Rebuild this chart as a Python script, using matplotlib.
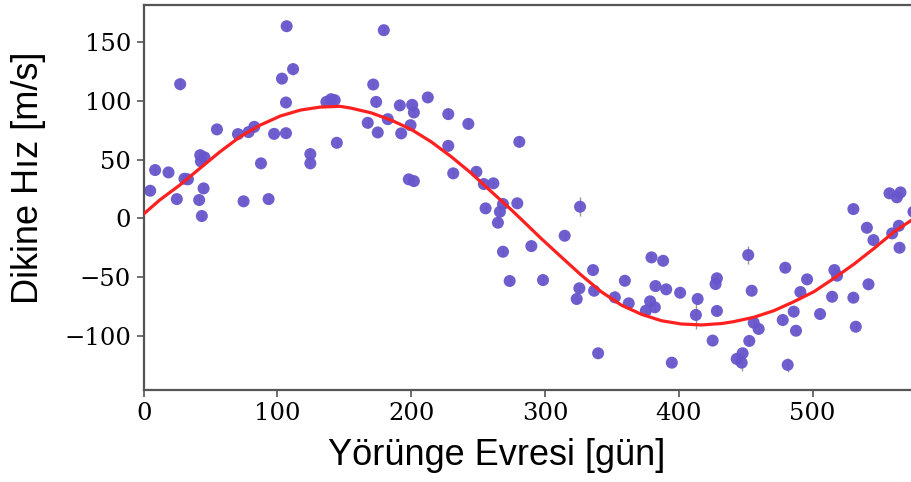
import matplotlib
matplotlib.use("Agg")
import matplotlib.pyplot as plt

phase = [4.9, 8.6, 18.6, 24.8, 27.3, 30.5, 33.1, 41.5, 42.3, 45.5, 42.8, 43.5,
         44.8, 54.8, 70.5, 74.7, 78.4, 82.7, 87.7, 93.4, 97.5, 103.4, 106.4,
         106.4, 106.9, 111.7, 124.6, 124.6, 136.6, 140.1, 142.8, 144.4, 167.5,
         171.6, 173.8, 175.0, 179.5, 182.5, 191.5, 192.5, 198.2, 199.5, 200.7,
         202.0, 202.0, 212.4, 227.7, 227.7, 231.4, 242.7, 248.7, 254.3, 255.6,
         261.4, 264.8, 266.3, 268.6, 268.6, 273.6, 279.3, 280.8, 289.8, 298.5,
         314.7, 323.7, 325.7, 326.2, 335.9, 336.7, 339.7, 352.2, 359.7, 362.6,
         375.4, 378.6, 379.6, 382.1, 382.6, 388.3, 390.6, 394.8, 401.0, 412.8,
         414.1, 425.3, 427.5, 428.5, 428.5, 443.3, 447.0, 447.7, 451.9, 452.7,
         454.5, 456.0, 459.7, 477.7, 479.6, 481.4, 485.9, 487.6, 490.9, 495.9,
         505.6, 514.6, 516.3, 518.3, 530.5, 530.5, 532.3, 540.6, 541.8, 545.5,
         557.5, 559.5, 563.0, 564.5, 565.0, 565.7, 575.4]
rv = [23.5, 41.1, 39.1, 16.4, 114.2, 33.7, 33.2, 15.6, 53.8, 51.9, 48.5, 2.0,
      25.5, 75.7, 71.7, 14.5, 73.4, 77.9, 46.8, 16.4, 71.9, 118.9, 98.6,
      72.5, 163.5, 127.0, 54.7, 46.8, 99.1, 101.4, 100.6, 64.3, 81.3,
      113.9, 99.1, 73.1, 160.1, 84.4, 96.1, 72.3, 33.2, 79.3, 96.6,
      90.1, 31.7, 102.9, 88.7, 61.7, 38.3, 80.4, 39.6, 29.2, 8.5,
      29.8, -3.7, 5.6, 12.2, -28.4, -53.3, 12.8, 65.1, -23.6, -52.5,
      -14.8, -68.6, -59.5, 9.9, -44.0, -61.6, -114.8, -67.2, -53.1, -72.3,
      -78.6, -70.6, -33.2, -75.7, -57.6, -36.1, -60.4, -122.8, -63.3, -82.2,
      -68.6, -104.0, -55.9, -51.0, -78.8, -119.6, -122.8, -114.8, -31.2, -104.3,
      -61.6, -88.8, -94.1, -86.5, -42.0, -124.7, -79.4, -95.6, -62.7, -51.9,
      -81.4, -66.7, -44.0, -48.8, 7.9, -67.5, -92.2, -8.0, -56.1, -18.5,
      21.3, -12.8, 17.9, -6.3, -25.0, 22.1, 5.6]
rv_err = [4] * len(rv)
for i, e in [(4, 5), (25, 5), (36, 4), (66, 8), (82, 12), (89, 7), (91, 8),
             (98, 6), (70, 5)]:
    rv_err[i] = e

# fitted orbit curve
fit_phase = [0, 12, 27, 42, 57, 72, 87, 102, 117, 132, 147, 155, 170, 185,
             200, 215, 230, 245, 260, 275, 287, 297, 312, 327, 342, 357, 372,
             387, 402, 417, 432, 441, 456, 471, 486, 501, 516, 531, 546, 561,
             576]
fit_rv = [3.7, 15.6, 28.3, 42.5, 56.6, 69.4, 79.3, 87.0, 92.1, 94.7, 95.3,
          93.8, 89.8, 83.6, 75.7, 65.1, 52.4, 38.3, 22.6, 7.1, -6.0, -17.0,
          -32.7, -48.2, -62.4, -73.8, -81.6, -87.1, -89.9, -90.7, -89.5,
          -87.9, -84.2, -78.6, -70.9, -62.4, -51.0, -38.9, -25.5, -11.4, 0.0]

fig = plt.figure(figsize=(9.12, 4.82), dpi=100)
ax = fig.add_axes([0.1575, 0.191, 0.8435, 0.7985])

ax.errorbar(phase, rv, yerr=rv_err, fmt='none', ecolor='#999999',
            elinewidth=1.0, zorder=1)
ax.scatter(phase, rv, s=75, color='#6655cc', alpha=0.95, edgecolors='none',
           zorder=2)
ax.plot(fit_phase, fit_rv, color='#ff2020', lw=2.3, zorder=3)

ax.set_xlim(0, 575)
ax.set_ylim(-146, 181.5)
ax.set_xticks([0, 100, 200, 300, 400, 500])
ax.set_yticks([-100, -50, 0, 50, 100, 150])

for s in ax.spines.values():
    s.set_color('#555555')
    s.set_linewidth(1.6)
ax.spines['right'].set_visible(False)
ax.tick_params(direction='out', length=5, width=1.2, color='#555555',
               labelsize=17.5, pad=4)
for lab in ax.get_xticklabels() + ax.get_yticklabels():
    lab.set_family('DejaVu Serif')

ax.set_xlabel('Yörünge Evresi [gün]', family='Liberation Sans', fontsize=26,
              labelpad=9)
ax.set_ylabel('Dikine Hız [m/s]', family='Liberation Sans', fontsize=26,
              labelpad=13)
# the source figure was cropped on the right, so labels sit off-centre
ax.xaxis.label.set_x(0.4587)
ax.yaxis.label.set_y(0.551)

fig.savefig('out.png', dpi=100)
